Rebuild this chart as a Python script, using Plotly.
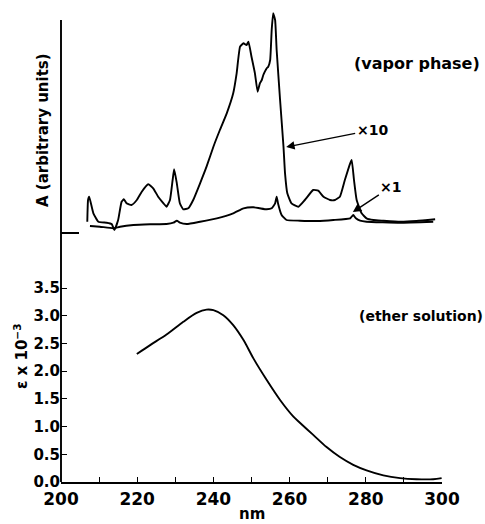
import plotly.graph_objects as go

# ---- data ----
# vapor phase, x10 trace (arbitrary units above baseline)
wl_x10 = [206.9, 207.1, 207.4, 208.5, 209.8, 212.0, 213.3, 214.0, 215.0, 215.9, 216.5, 217.2,
          218.5, 219.9, 221.2, 222.9, 224.2, 225.5, 226.9, 227.7, 228.6, 229.3, 229.7, 230.4,
          231.2, 232.1, 233.4, 234.7, 236.5, 238.2, 240.0, 241.7, 243.5, 245.2, 246.1, 247.0,
          247.9, 248.7, 249.2, 250.0, 250.9, 251.6, 252.2, 252.7, 253.1, 253.5, 254.0, 254.4,
          254.9, 255.3, 255.7, 256.2, 256.6, 257.5, 258.4, 258.8, 259.4, 260.5, 262.3, 264.0,
          266.2, 267.5, 268.9, 270.6, 271.9, 273.2, 274.5, 275.9, 276.3, 276.9, 277.6, 278.9,
          280.2, 282.0, 284.6, 289.0, 293.3, 298.2]
a_x10 = [11.3, 33.0, 36.3, 19.7, 11.3, 10.3, 9.0, 3.0, 13.0, 31.3, 33.7, 29.7,
         28.0, 33.0, 41.3, 48.7, 44.7, 36.3, 29.7, 26.3, 33.0, 53.0, 63.7, 49.7,
         29.7, 23.7, 24.7, 33.0, 49.7, 66.3, 86.3, 103.0, 119.7, 139.7, 159.7, 186.3,
         189.7, 188.0, 191.3, 176.3, 159.7, 141.3, 149.7, 153.0, 158.0, 161.3, 164.7, 166.3,
         173.0, 203.0, 219.7, 213.0, 183.0, 133.0, 86.3, 59.7, 39.7, 29.7, 26.3, 33.0,
         43.0, 42.3, 36.3, 33.0, 33.0, 36.3, 53.0, 69.7, 73.0, 53.0, 33.0, 19.7,
         14.7, 13.0, 12.3, 11.3, 12.0, 13.7]

# vapor phase, x1 trace
wl_x1 = [207.6, 210.2, 213.7, 215.5, 219.0, 223.4, 227.7, 229.5, 230.4, 231.2, 233.0, 236.5,
         240.9, 245.2, 247.9, 250.5, 252.2, 254.0, 255.3, 256.2, 256.6, 257.0, 257.9, 259.2,
         262.7, 267.1, 271.5, 275.9, 276.7, 277.4, 278.5, 280.2, 289.0, 297.7]
a_x1 = [7.0, 6.3, 4.7, 6.3, 8.0, 8.7, 9.0, 10.3, 12.3, 10.3, 9.0, 11.3,
        14.7, 19.7, 24.7, 25.7, 24.7, 23.7, 24.7, 29.7, 36.3, 29.0, 18.0, 13.0,
        12.3, 12.0, 13.0, 14.7, 18.0, 14.7, 12.3, 11.3, 10.3, 11.3]

# ether solution, epsilon x 10^-3
wl_eth = [219.9, 223.4, 227.7, 232.1, 235.6, 238.2, 240.0, 242.6, 245.2, 247.9, 250.5, 254.0,
          257.5, 261.0, 262.7, 266.2, 269.7, 273.2, 276.7, 280.2, 284.6, 289.0, 293.3, 297.7, 299.9]
eps_eth = [2.31, 2.47, 2.66, 2.89, 3.05, 3.11, 3.10, 3.01, 2.83, 2.56, 2.23, 1.84,
           1.48, 1.18, 1.07, 0.85, 0.63, 0.45, 0.31, 0.21, 0.12, 0.07, 0.05, 0.05, 0.07]

x_ticks = [200, 220, 240, 260, 280, 300]
y_ticks = [0.0, 0.5, 1.0, 1.5, 2.0, 2.5, 3.0, 3.5]

# ---- layout geometry ----
W, H = 485, 524
ml, mr, mt, mb = 61, 43, 10, 42
ph = H - mt - mb
pw = W - ml - mr
px_per_eps = 55.43
bot_dom = [0, 0.45]
top_dom = [0.47, 1]
bot_range = [0, bot_dom[1] * ph / px_per_eps]
base_py = 233  # pixel row of baseline for top panel
top_range = [base_py - (mt + (1 - top_dom[0]) * ph), base_py - mt]

FONT = "DejaVu Sans"
line = dict(color="black", width=1.9, shape="spline", smoothing=0.4)

fig = go.Figure()
fig.add_trace(go.Scatter(x=wl_x10, y=a_x10, mode="lines", line=line, yaxis="y2", showlegend=False))
fig.add_trace(go.Scatter(x=wl_x1, y=a_x1, mode="lines", line=line, yaxis="y2", showlegend=False))
fig.add_trace(go.Scatter(x=wl_eth, y=eps_eth, mode="lines",
                         line=dict(color="black", width=1.9, shape="spline", smoothing=0.8),
                         yaxis="y", showlegend=False))

fig.update_layout(
    width=W, height=H,
    margin=dict(l=ml, r=mr, t=mt, b=mb),
    paper_bgcolor="white", plot_bgcolor="white",
    font=dict(family=FONT, color="black", size=15, weight="bold"),
    xaxis=dict(range=[200, 300], tickvals=x_ticks, ticktext=[str(v) for v in x_ticks],
               ticks="inside", ticklen=5, tickcolor="black", tickwidth=1.2,
               minor=dict(dtick=10, ticks="inside", ticklen=5, tickcolor="black", tickwidth=1.2),
               showline=True, linecolor="black", linewidth=1.9, showgrid=False, zeroline=False,
               tickfont=dict(size=17, weight="bold"), ticklabelstandoff=1, anchor="y"),
    yaxis=dict(domain=bot_dom, range=bot_range, tickvals=y_ticks,
               ticktext=[f"{v:.1f}" for v in y_ticks],
               ticks="inside", ticklen=6, tickcolor="black", tickwidth=1.2,
               showline=False, showgrid=False, zeroline=False,
               tickfont=dict(size=15, weight="bold")),
    yaxis2=dict(domain=top_dom, range=top_range, showticklabels=False, ticks="",
                showline=False, showgrid=False, zeroline=False, anchor="x"),
)

# continuous vertical axis line
fig.add_shape(type="line", xref="paper", yref="paper", x0=0, x1=0,
              y0=0, y1=(H - mb - 20) / ph, line=dict(color="black", width=1.9))
# baseline marker for the top panel
fig.add_shape(type="line", xref="paper", yref="y2", x0=0, x1=18 / pw,
              y0=0, y1=0, line=dict(color="black", width=1.9))

def py_to_paper(py):
    return (H - mb - py) / ph

B = dict(weight="bold")
ann = []
ann.append(dict(text="A (arbitrary units)", xref="paper", yref="paper", x=0, xshift=43 - ml,
                y=py_to_paper(130), textangle=-90, showarrow=False, font=dict(size=15, **B),
                xanchor="center", yanchor="middle"))
ann.append(dict(text="ε x 10<sup>−3</sup>", xref="paper", yref="paper", x=0, xshift=21 - ml,
                y=py_to_paper(357), textangle=-90, showarrow=False, font=dict(size=15, **B),
                xanchor="center", yanchor="middle"))
ann.append(dict(text="nm", xref="paper", yref="paper", x=(252 - ml) / pw,
                y=py_to_paper(514), showarrow=False, font=dict(size=15, **B),
                xanchor="center", yanchor="middle"))
ann.append(dict(text="(vapor phase)", xref="paper", yref="paper", x=(417 - ml) / pw,
                y=py_to_paper(63), showarrow=False, font=dict(size=16, **B),
                xanchor="center", yanchor="middle"))
ann.append(dict(text="(ether solution)", xref="paper", yref="paper", x=(421 - ml) / pw,
                y=py_to_paper(316), showarrow=False, font=dict(size=14, **B),
                xanchor="center", yanchor="middle"))
ann.append(dict(text="×10", x=259.1, y=86, xref="x", yref="y2", showarrow=True,
                ax=86, ay=-17, arrowhead=2, arrowsize=1.2, arrowwidth=1.4, arrowcolor="black",
                font=dict(size=14, **B), standoff=0))
ann.append(dict(text="×1", x=276.6, y=21, xref="x", yref="y2", showarrow=True,
                ax=38, ay=-25, arrowhead=2, arrowsize=1.2, arrowwidth=1.4, arrowcolor="black",
                font=dict(size=14, **B), standoff=0))
fig.update_layout(annotations=ann)

fig.write_html("out.html")
